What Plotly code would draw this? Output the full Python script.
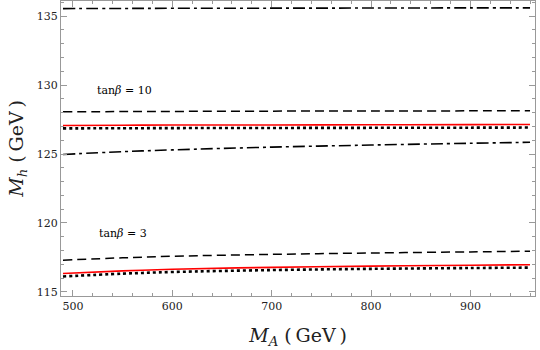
import plotly.graph_objects as go

MA = [490, 550, 600, 700, 800, 900, 960]

# tan beta = 10
t10_dashdot_top = [135.55, 135.56, 135.57, 135.58, 135.59, 135.6, 135.6]
t10_dashed = [128.06, 128.08, 128.09, 128.11, 128.12, 128.13, 128.13]
t10_red = [127.07, 127.09, 127.1, 127.11, 127.12, 127.13, 127.14]
t10_dotted = [126.86, 126.87, 126.88, 126.89, 126.9, 126.91, 126.92]
t10_dashdot_low = [124.97, 125.17, 125.3, 125.5, 125.65, 125.78, 125.85]

# tan beta = 3
t3_dashed = [117.3, 117.47, 117.58, 117.72, 117.82, 117.9, 117.95]
t3_red = [116.33, 116.52, 116.64, 116.78, 116.87, 116.93, 116.97]
t3_dotted = [116.12, 116.32, 116.44, 116.58, 116.67, 116.73, 116.76]

labels = [("tan<i>β</i> = 10", 552, 129.6), ("tan<i>β</i> = 3", 550, 119.2)]

SERIF = "DejaVu Serif"
DASHDOT = "12px,4px,3px,4px"
DASHED = "9px,5px"
DOTTED = "3px,3px"

fig = go.Figure()
series = [
    (t10_dashdot_top, "black", DASHDOT, 1.6),
    (t10_dashed, "black", DASHED, 1.5),
    (t10_red, "red", "solid", 1.6),
    (t10_dotted, "black", DOTTED, 2.6),
    (t10_dashdot_low, "black", DASHDOT, 1.6),
    (t3_dashed, "black", DASHED, 1.5),
    (t3_red, "red", "solid", 1.6),
    (t3_dotted, "black", DOTTED, 2.6),
]
for ys, col, dash, w in series:
    fig.add_trace(go.Scatter(x=MA, y=ys, mode="lines", line=dict(color=col, dash=dash, width=w, shape="spline"),
                             showlegend=False, hoverinfo="skip"))

for txt, x, y in labels:
    fig.add_annotation(x=x, y=y, text=txt, showarrow=False, font=dict(size=11, color="black", family=SERIF))

axis_common = dict(
    showline=True, linecolor="#999999", linewidth=1, mirror="ticks",
    ticks="inside", ticklen=6, tickcolor="#999999", showgrid=False, zeroline=False,
    tickfont=dict(family=SERIF, size=11, color="#222222"),
)
fig.update_xaxes(range=[488, 965], tickvals=[500, 600, 700, 800, 900],
                 minor=dict(ticks="inside", ticklen=3, tickcolor="#999999", dtick=20, tick0=500),
                 title=dict(text="<i>M</i><sub><i>A</i></sub> (\u2009GeV\u2009)", font=dict(family=SERIF, size=19, color="#222222"), standoff=16),
                 **axis_common)
fig.update_yaxes(range=[114.7, 136.1], tickvals=[115, 120, 125, 130, 135],
                 minor=dict(ticks="inside", ticklen=3, tickcolor="#999999", dtick=1, tick0=115),
                 title=dict(text="<i>M</i><sub><i>h</i></sub> (\u2009GeV\u2009)", font=dict(family=SERIF, size=19, color="#222222"), standoff=8),
                 **axis_common)

fig.update_layout(width=540, height=350, margin=dict(l=61, r=5, t=1, b=54),
                  plot_bgcolor="white", paper_bgcolor="white")
fig.write_html("out.html")
